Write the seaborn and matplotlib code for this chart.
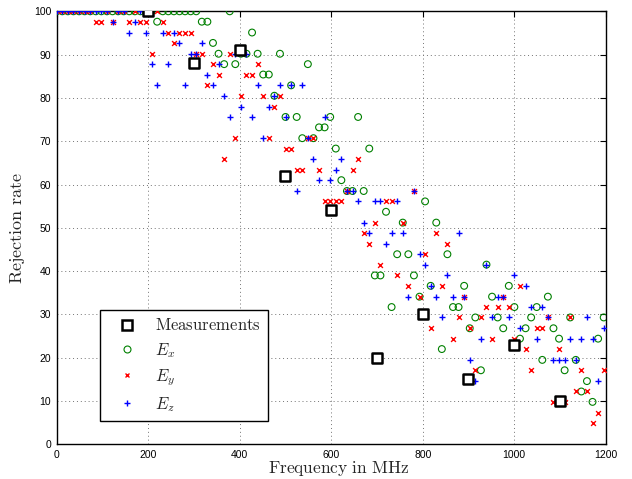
import numpy as np
import matplotlib
matplotlib.use("Agg")
import matplotlib.pyplot as plt
import seaborn as sns
from matplotlib.lines import Line2D

# Simulated sweep: 99 frequency points spaced 12.2 MHz
freq_step_mhz = 12.2
n_points = 99

# Measured rejection rates (%)
meas_freq = [200, 300, 400, 500, 600, 700, 800, 900, 1000, 1100]
meas_rate = [100, 88, 91, 62, 54, 20, 30, 15, 23, 10]

# Simulated rejection rates (%) for each field component
ex_rate = [
    100, 100, 100, 100, 100, 100, 100, 100, 100, 100,
    100, 100, 100, 100, 100, 100, 100, 100, 97.6, 100,
    100, 100, 100, 100, 100, 100, 97.6, 97.6, 92.7, 90.2,
    87.8, 100, 87.8, 90.2, 90.2, 95.1, 90.2, 85.4, 85.4, 80.5,
    90.2, 75.6, 82.9, 75.6, 70.7, 87.8, 70.7, 73.2, 73.2, 75.6,
    68.3, 61.0, 58.5, 58.5, 75.6, 58.5, 68.3, 39.0, 39.0, 53.7,
    31.7, 43.9, 51.2, 43.9, 39.0, 34.1, 56.1, 36.6, 51.2, 22.0,
    43.9, 31.7, 31.7, 36.6, 26.8, 29.3, 17.1, 41.5, 34.1, 29.3,
    26.8, 36.6, 31.7, 24.4, 26.8, 29.3, 31.7, 19.5, 34.1, 26.8,
    24.4, 17.1, 29.3, 19.5, 12.2, 14.6, 9.8, 24.4, 29.3,
]
ey_rate = [
    100, 100, 100, 100, 100, 100, 100, 97.6, 97.6, 100,
    97.6, 100, 100, 97.6, 100, 97.6, 97.6, 90.2, 100, 97.6,
    95.1, 92.7, 95.1, 95.1, 95.1, 90.2, 90.2, 82.9, 87.8, 85.4,
    65.9, 90.2, 70.7, 80.5, 85.4, 85.4, 87.8, 80.5, 70.7, 78.0,
    80.5, 68.3, 68.3, 63.4, 63.4, 70.7, 70.7, 63.4, 56.1, 56.1,
    56.1, 56.1, 58.5, 63.4, 65.9, 48.8, 46.3, 51.2, 41.5, 56.1,
    56.1, 39.0, 51.2, 36.6, 58.5, 34.1, 43.9, 26.8, 48.8, 36.6,
    46.3, 24.4, 29.3, 34.1, 26.8, 17.1, 29.3, 31.7, 24.4, 31.7,
    34.1, 31.7, 24.4, 36.6, 22.0, 17.1, 26.8, 26.8, 29.3, 9.8,
    22.0, 9.8, 29.3, 12.2, 17.1, 12.2, 4.9, 7.3, 17.1,
]
ez_rate = [
    100, 100, 100, 100, 100, 100, 100, 100, 100, 100,
    97.6, 100, 100, 95.1, 97.6, 100, 95.1, 87.8, 82.9, 95.1,
    87.8, 95.1, 92.7, 82.9, 90.2, 90.2, 92.7, 85.4, 82.9, 87.8,
    80.5, 75.6, 90.2, 78.0, 90.2, 75.6, 82.9, 70.7, 78.0, 80.5,
    82.9, 75.6, 82.9, 58.5, 82.9, 70.7, 65.9, 61.0, 75.6, 61.0,
    63.4, 65.9, 58.5, 58.5, 56.1, 51.2, 48.8, 56.1, 56.1, 46.3,
    48.8, 56.1, 48.8, 34.1, 58.5, 43.9, 41.5, 36.6, 34.1, 29.3,
    39.0, 34.1, 48.8, 34.1, 19.5, 14.6, 24.4, 41.5, 29.3, 34.1,
    34.1, 29.3, 39.0, 26.8, 36.6, 31.7, 24.4, 31.7, 29.3, 19.5,
    19.5, 19.5, 24.4, 19.5, 24.4, 29.3, 24.4, 14.6, 26.8,
]

freq = np.arange(n_points) * freq_step_mhz

sns.set_theme(style="white")
plt.rcParams["font.family"] = ["Liberation Sans", "DejaVu Sans"]
plt.rcParams["mathtext.fontset"] = "cm"

green = "#008000"
red = "#ff0000"
blue = "#0000ff"

fig = plt.figure(figsize=(6.32, 4.79), dpi=100)
ax = fig.add_axes([0.0897, 0.0724, 0.8687, 0.904])

sns.scatterplot(x=freq, y=ex_rate, marker="o", s=24, facecolors="none",
                edgecolor=green, linewidth=0.8, ax=ax, legend=False, zorder=3)
sns.scatterplot(x=freq, y=ey_rate, marker="x", s=12, color=red,
                linewidth=1.0, ax=ax, legend=False, zorder=3)
sns.scatterplot(x=freq, y=ez_rate, marker="+", s=24, color=blue,
                linewidth=1.0, ax=ax, legend=False, zorder=3)
sns.scatterplot(x=meas_freq, y=meas_rate, marker="s", s=44, facecolor="white",
                edgecolor="black", linewidth=1.8, ax=ax, legend=False, zorder=4)

ax.set_xlim(0, 1200)
ax.set_ylim(0, 100)
ax.set_xticks(np.arange(0, 1201, 200))
ax.set_yticks(np.arange(0, 101, 10))
ax.grid(True, linestyle=(0, (1, 3)), color="0.45", linewidth=0.7)
ax.tick_params(direction="in", top=True, right=True, length=4, width=0.8,
               labelsize=7.5, colors="black", pad=4)
for sp in ax.spines.values():
    sp.set_color("black")
    sp.set_linewidth(1.0)
    sp.set_visible(True)

ax.set_xlabel(r"$\mathrm{Frequency\ in\ MHz}$", fontsize=12.5)
ax.xaxis.set_label_coords(0.514, -0.033)
ax.set_ylabel(r"$\mathrm{Rejection\ rate}$", fontsize=13, labelpad=5)

handles = [
    Line2D([], [], ls="none", marker="s", ms=7.5, mfc="white", mec="black", mew=1.8),
    Line2D([], [], ls="none", marker="o", ms=5, mfc="none", mec=green, mew=0.8),
    Line2D([], [], ls="none", marker="x", ms=3.5, color=red, mew=1.0),
    Line2D([], [], ls="none", marker="+", ms=5, color=blue, mew=1.0),
]
labels = [r"$\mathrm{Measurements}$", r"$E_x$", r"$E_y$", r"$E_z$"]
leg = ax.legend(handles, labels, loc="upper left", bbox_to_anchor=(0.0789, 0.3102),
                borderaxespad=0, fontsize=12, frameon=True, fancybox=False,
                framealpha=1, edgecolor="black", labelspacing=0.44,
                handlelength=2.3, handletextpad=0.55, borderpad=0.45)
leg.get_frame().set_linewidth(1.0)
leg.set_zorder(5)

fig.savefig("out.png", dpi=100)
